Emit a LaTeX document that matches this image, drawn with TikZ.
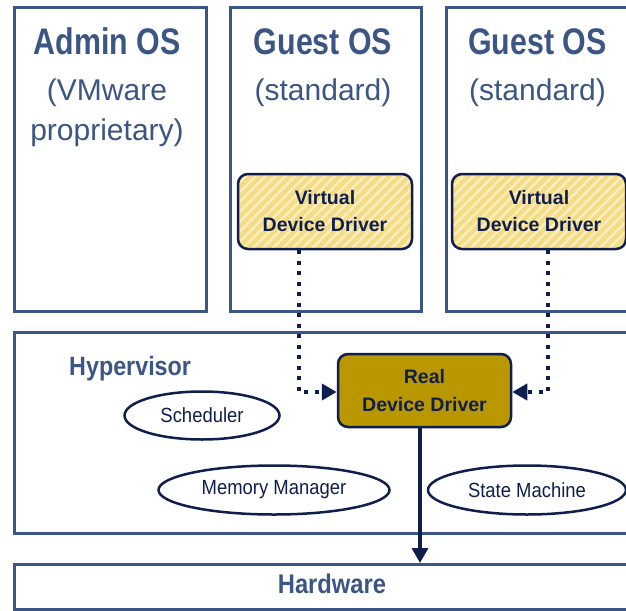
\documentclass[tikz,border=0pt]{standalone}
\usepackage{fontspec}
\setmainfont{Liberation Sans}
\newfontfamily\narrowA{Liberation Sans}[FakeStretch=0.82]
\newfontfamily\narrowB{Liberation Sans}[FakeStretch=0.88]
\newfontfamily\narrowC{Liberation Sans}[FakeStretch=0.9]
\usetikzlibrary{arrows.meta,patterns.meta,shapes.geometric}
\definecolor{frame}{HTML}{3B5585}
\definecolor{navy}{HTML}{0F1F4D}
\definecolor{gold}{HTML}{B99700}
\definecolor{hatchA}{HTML}{F4DC84}
\definecolor{hatchB}{HTML}{FBEDC0}
\tikzset{
  layerbox/.style={draw=frame, line width=3pt, fill=white, anchor=north west, inner sep=0pt},
  titletext/.style={text=frame, font=\narrowA\bfseries\fontsize{37}{40}\selectfont, anchor=base, inner sep=0pt},
  subtext/.style={text=frame, font=\fontsize{30}{36}\selectfont, anchor=base, inner sep=0pt},
  vddbox/.style={draw=navy, line width=2.5pt, rounded corners=10pt, minimum width=174pt, minimum height=75pt,
    preaction={fill=hatchA}, pattern={Lines[angle=45,distance=7pt,line width=2.5pt]}, pattern color=hatchB,
    text=navy, font=\bfseries\fontsize{19.5}{27}\selectfont, align=center, inner sep=0pt},
  rddbox/.style={draw=navy, line width=2.5pt, rounded corners=10pt, minimum width=173pt, minimum height=73pt,
    fill=gold, text=navy, font=\bfseries\fontsize{19.5}{28}\selectfont, align=center, inner sep=0pt},
  compo/.style={ellipse, draw=navy, line width=2.5pt, fill=white, inner sep=0pt,
    text=navy, font=\narrowC\fontsize{20.5}{24}\selectfont},
  dotarrow/.style={navy, line width=4pt, dash pattern=on 4pt off 6.5pt, -{Triangle[length=15pt,width=16pt]}},
  solidarrow/.style={navy, line width=3.5pt, -{Triangle[length=15pt,width=16pt]}},
}
\begin{document}
\begin{tikzpicture}[x=1pt,y=-1pt]
\useasboundingbox (0,0) rectangle (626,610);
\clip (0,0) rectangle (626,610);
% OS boxes
\node[layerbox, minimum width=192pt, minimum height=303pt] (admin) at (12.5,6.5) {};
\node[layerbox, minimum width=191pt, minimum height=303pt] (guest1) at (228.5,6.5) {};
\node[layerbox, minimum width=200pt, minimum height=303pt] (guest2) at (444.5,6.5) {};
% titles
\node[titletext] (admint) at (107,55) {Admin OS};
\node[subtext] (admins1) at (107,100) {(VMware};
\node[subtext] (admins2) at (107,140) {proprietary)};
\node[titletext] (g1t) at (323,55) {Guest OS};
\node[subtext] (g1s) at (323,100) {(standard)};
\node[titletext] (g2t) at (537.5,55) {Guest OS};
\node[subtext] (g2s) at (537.5,100) {(standard)};
% hypervisor and hardware
\node[layerbox, minimum width=640pt, minimum height=201pt] (hyp) at (12.5,331) {};
\node[layerbox, minimum width=640pt, minimum height=45pt] (hw) at (12.5,563) {};
\node[text=frame, font=\narrowB\bfseries\fontsize{26.5}{30}\selectfont, anchor=base west, inner sep=0pt] (hyplabel) at (69,375) {Hypervisor};
\node[text=frame, font=\narrowB\bfseries\fontsize{27}{30}\selectfont, anchor=base, inner sep=0pt] (hwlabel) at (332,593.5) {Hardware};
% components
\node[compo, minimum width=155pt, minimum height=48pt] (sched) at (202,415.5) {Scheduler};
\node[compo, minimum width=231pt, minimum height=49pt] (mem) at (274,490) {Memory Manager};
\node[compo, minimum width=198pt, minimum height=49pt] (state) at (527,490) {State Machine};
% drivers
\node[vddbox] (vdd1) at (325,211.5) {Virtual\\Device Driver};
\node[vddbox] (vdd2) at (539,211.5) {Virtual\\Device Driver};
\node[rddbox] (rdd) at (424.5,390.5) {Real\\Device Driver};
% connectors
\draw[dotarrow] ([xshift=-26pt]vdd1.south) |- ([yshift=-1.5pt]rdd.west);
\draw[dotarrow] ([xshift=9pt]vdd2.south) |- ([yshift=-1.5pt]rdd.east);
\draw[solidarrow] ([xshift=-4.5pt]rdd.south) -- ([xshift=-4.5pt]rdd.south |- hw.north);
\end{tikzpicture}
\end{document}
